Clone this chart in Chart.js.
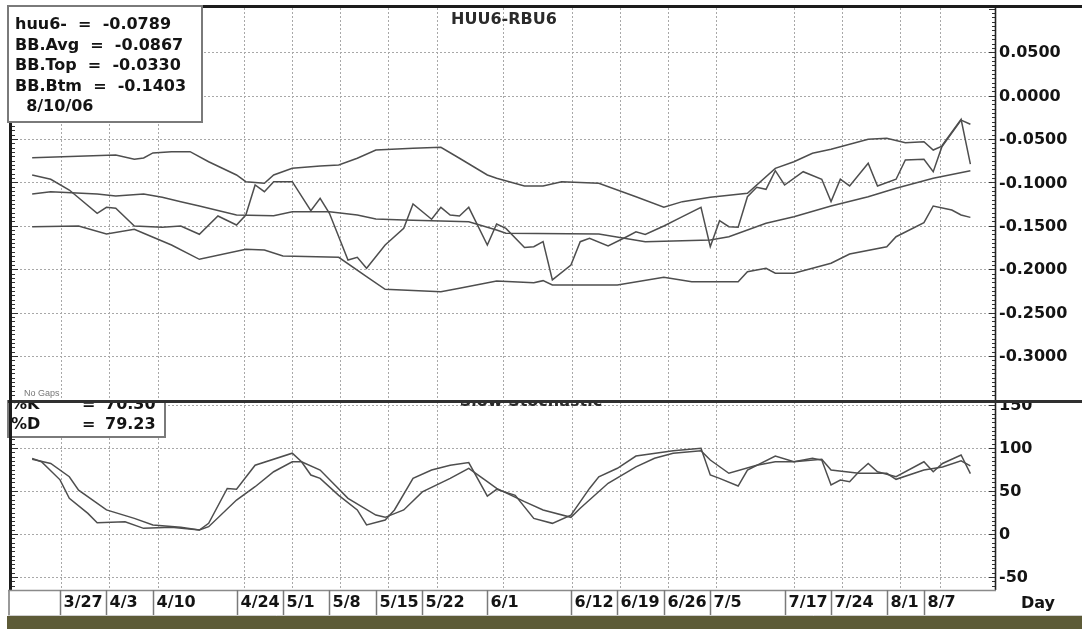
<!DOCTYPE html>
<html><head><meta charset="utf-8">
<script src="https://cdn.jsdelivr.net/npm/chart.js@4/dist/chart.umd.min.js"></script>
<style>
html,body{margin:0;padding:0;background:#fff;}
#wrap{position:relative;width:1082px;height:629px;overflow:hidden;background:#fff;}
#c1{position:absolute;left:0;top:0;}
#c2{position:absolute;left:0;top:400px;}
#band{position:absolute;left:7px;top:616px;width:1075px;height:13px;background:#5d5b37;}
</style></head><body>
<div id="wrap">
<canvas id="c1" width="1082" height="400" style="width:1082px;height:400px"></canvas>
<canvas id="c2" width="1082" height="216" style="width:1082px;height:216px"></canvas>
<div id="band"></div>
</div>
<script>
// ---- data (x = trading-day index counted from 3/27) ----
const dayLabels = ["3/27","4/3","4/10","4/24","5/1","5/8","5/15","5/22","6/1","6/12","6/19","6/26","7/5","7/17","7/24","8/1","8/7"];
const labelDays = [0,5,10,19,24,29,34,39,46,55,60,65,70,78,83,89,93];
const gridDays = [0.1,5.3,10.5,19.8,25,30.1,35.3,40.6,47.7,55.1,60.3,65.4,70.6,79,84.2,90.4,94.7];

const upperTicks = [0.05,0,-0.05,-0.1,-0.15,-0.2,-0.25,-0.3];
const upperTickLabels = ["0.0500","0.0000","-0.0500","-0.1000","-0.1500","-0.2000","-0.2500","-0.3000"];
const lowerTicks = [150,100,50,0,-50];
const lowerTickLabels = ["150","100","50","0","-50"];

const huu6 = [[-3,-0.0915],[-1,-0.0964],[1,-0.1088],[4,-0.1356],[5,-0.1287],[6,-0.1298],[8,-0.1502],[11,-0.1517],[13,-0.1502],[15,-0.1598],[17,-0.1387],[19,-0.1491],[20,-0.1376],[21,-0.1030],[22,-0.1107],[23,-0.0992],[25,-0.0992],[27,-0.1326],[28,-0.1183],[29,-0.1356],[31,-0.1894],[32,-0.1863],[33,-0.1990],[35,-0.1721],[37,-0.1529],[38,-0.1249],[40,-0.1425],[41,-0.1287],[42,-0.1376],[43,-0.1387],[44,-0.1287],[46,-0.1721],[47,-0.1480],[48,-0.1530],[50,-0.1751],[51,-0.1741],[52,-0.1683],[53,-0.2124],[55,-0.1952],[56,-0.1683],[57,-0.1644],[59,-0.1733],[61,-0.1626],[62,-0.1570],[63,-0.1600],[65,-0.1502],[67,-0.1395],[69,-0.1287],[70,-0.1741],[71,-0.1441],[72,-0.1510],[73,-0.1517],[74,-0.1165],[75,-0.1056],[76,-0.1080],[77,-0.0865],[78,-0.1030],[80,-0.0877],[82,-0.0964],[83,-0.1222],[84,-0.0964],[85,-0.1041],[87,-0.0780],[88,-0.1041],[90,-0.0964],[91,-0.0742],[93,-0.0734],[94,-0.0877],[95,-0.0569],[97,-0.0273],[98,-0.0789]];
const bbAvg = [[-3,-0.1134],[-1,-0.1107],[4,-0.1134],[6,-0.1157],[9,-0.1134],[11,-0.1172],[13,-0.1222],[15,-0.1272],[19,-0.1376],[23,-0.1384],[25,-0.1338],[29,-0.1338],[32,-0.1376],[34,-0.1422],[37,-0.1433],[44,-0.1453],[47,-0.1548],[48,-0.1586],[58,-0.1594],[63,-0.1683],[70,-0.1664],[72,-0.1626],[76,-0.1471],[79,-0.1395],[83,-0.1272],[87,-0.1165],[90,-0.1068],[94,-0.0953],[98,-0.0867]];
const bbTop = [[-3,-0.0715],[6,-0.0684],[8,-0.0734],[9,-0.0719],[10,-0.0661],[12,-0.0646],[14,-0.0646],[16,-0.0762],[19,-0.0915],[20,-0.0992],[22,-0.1010],[23,-0.0915],[25,-0.0838],[28,-0.0811],[30,-0.0800],[32,-0.0722],[34,-0.0627],[38,-0.0607],[41,-0.0596],[43,-0.0722],[46,-0.0915],[47,-0.0953],[50,-0.1041],[52,-0.1041],[54,-0.0992],[58,-0.1010],[62,-0.1165],[65,-0.1287],[67,-0.1222],[70,-0.1172],[74,-0.1126],[77,-0.0838],[79,-0.0762],[81,-0.0665],[83,-0.0619],[87,-0.0503],[89,-0.0492],[91,-0.0543],[93,-0.0531],[94,-0.0627],[95,-0.0580],[97,-0.0283],[98,-0.0330]];
const bbBtm = [[-3,-0.1510],[2,-0.1502],[5,-0.1594],[8,-0.1540],[9,-0.1586],[12,-0.1721],[15,-0.1886],[20,-0.1771],[22,-0.1779],[24,-0.1848],[30,-0.1863],[33,-0.2086],[35,-0.2232],[41,-0.2259],[43,-0.2220],[47,-0.2136],[51,-0.2156],[52,-0.2132],[53,-0.2182],[60,-0.2182],[65,-0.2093],[68,-0.2144],[73,-0.2144],[74,-0.2029],[76,-0.1990],[77,-0.2047],[79,-0.2047],[83,-0.1932],[85,-0.1825],[89,-0.1741],[90,-0.1626],[93,-0.1464],[94,-0.1272],[96,-0.1318],[97,-0.1376],[98,-0.1403]];

const stochK = [[-3,88],[-2,84],[0,63],[1,41.5],[3,24],[4,13],[7,14.3],[9,6.6],[12,7.8],[15,4.6],[16,12.4],[18,53],[19,52],[21,80],[25,94],[26,84],[27,68.6],[28,64.7],[30,45],[32,28],[33,10.5],[35,16.3],[36,28],[38,64.7],[40,74.4],[42,80],[44,83],[46,44],[47,52],[49,45],[51,18.2],[53,12.4],[55,22],[57,53],[58,66.6],[60,76.4],[62,90.7],[66,96.9],[69,99.7],[70,68.6],[71,64.7],[73,55.8],[74,74.4],[77,90.7],[79,84],[81,88],[82,86],[83,57],[84,62.8],[85,60.8],[86,72.4],[87,82],[88,72.4],[90,66.6],[93,84],[94,72.4],[95,82],[97,91.9],[98,70.3]];
const stochD = [[-3,87],[-1,82],[1,66.6],[2,51],[5,28],[8,18.2],[10,10.5],[13,7.8],[15,4.6],[16,8.5],[19,39.5],[21,55],[23,72.4],[25,84],[26,84],[28,74.4],[31,41.5],[34,22],[35,19.4],[37,28],[39,49],[42,64.7],[44,76.4],[46,60.8],[47,53],[50,37.6],[52,28],[55,19.4],[56,30],[59,59],[62,78],[64,88],[66,93.8],[69,96.9],[70,86],[72,70.6],[75,80],[77,84],[79,84],[82,87],[83,74.4],[86,70.6],[89,70.6],[90,63.6],[93,74.4],[95,78],[97,85],[98,79.23]];

const upperLegend = ["huu6-  =  -0.0789","BB.Avg  =  -0.0867","BB.Top  =  -0.0330","BB.Btm  =  -0.1403","  8/10/06"];
const lowerLegendNames = ["%K","%D"];
const lowerLegendValues = ["70.30","79.23"];

// ---- styles ----
const LINE = '#4e4e4e', DARK = '#1c1c1c', GRID = '#a8a8a8', TXT = '#141414';
const FONT = 'bold 16px "DejaVu Sans"';
const pts = arr => arr.map(([d, v]) => ({x: d, y: v}));
const ds = arr => ({data: pts(arr), borderColor: LINE, borderWidth: 1.5, pointRadius: 0, tension: 0, fill: false});

function hline(ctx, x1, x2, y) { ctx.beginPath(); ctx.moveTo(x1, y); ctx.lineTo(x2, y); ctx.stroke(); }
function vline(ctx, x, y1, y2) { ctx.beginPath(); ctx.moveTo(x, y1); ctx.lineTo(x, y2); ctx.stroke(); }

function drawGrid(chart, yTicks) {
  const {ctx, chartArea: a, scales: {x, y}} = chart;
  ctx.save();
  ctx.strokeStyle = GRID; ctx.lineWidth = 1; ctx.setLineDash([2, 2]);
  yTicks.forEach(v => { const py = Math.round(y.getPixelForValue(v)) + 0.5; if (py > a.top + 2 && py < a.bottom - 2) hline(ctx, a.left, a.right, py); });
  gridDays.forEach(d => { const px = Math.round(x.getPixelForValue(d)) + 0.5; vline(ctx, px, a.top, a.bottom); });
  ctx.restore();
}

function drawRulers(chart, step, major) {
  const {ctx, chartArea: a, scales: {y}} = chart;
  ctx.save();
  ctx.strokeStyle = '#333'; ctx.lineWidth = 1;
  const k0 = Math.ceil(y.min / step), k1 = Math.floor(y.max / step);
  for (let k = k0; k <= k1; k++) {
    const v = k * step;
    const isMajor = Math.abs(v / major - Math.round(v / major)) < 1e-6;
    const py = Math.round(y.getPixelForValue(v)) + 0.5;
    if (py < a.top + 1 || py > a.bottom - 1) continue;
    const len = isMajor ? 6 : 3;
    hline(ctx, a.right - len, a.right, py);
    hline(ctx, a.left, a.left + len, py);
  }
  ctx.lineWidth = 1.6; ctx.strokeStyle = '#222';
  vline(ctx, a.right + 0.5, a.top, a.bottom);
  ctx.restore();
}

function drawYLabels(chart, ticks, labels) {
  const {ctx, scales: {y}} = chart;
  ctx.save();
  ctx.font = FONT; ctx.fillStyle = TXT; ctx.textAlign = 'left'; ctx.textBaseline = 'middle';
  ticks.forEach((v, i) => ctx.fillText(labels[i], 999, y.getPixelForValue(v) + 1));
  ctx.restore();
}

const upperPlugin = {
  id: 'upperDeco',
  beforeDatasetsDraw(chart) { drawGrid(chart, upperTicks); },
  afterDraw(chart) {
    const {ctx, chartArea: a} = chart;
    drawRulers(chart, 0.005, 0.05);
    drawYLabels(chart, upperTicks, upperTickLabels);
    ctx.save();
    ctx.fillStyle = DARK;
    ctx.fillRect(8, 5, 1074, 3);
    ctx.fillRect(9, 5, 3, a.bottom - 5);
    ctx.font = FONT; ctx.fillStyle = '#2a2a2a'; ctx.textAlign = 'center'; ctx.textBaseline = 'middle';
    ctx.fillText('HUU6-RBU6', 504, 20);
    ctx.fillStyle = '#fff'; ctx.fillRect(7, 5, 196, 118);
    ctx.strokeStyle = '#7a7a7a'; ctx.lineWidth = 2; ctx.strokeRect(8, 6, 194, 116);
    ctx.fillStyle = TXT; ctx.textAlign = 'left';
    upperLegend.forEach((t, i) => ctx.fillText(t, 15, 25 + i * 20.5));
    ctx.font = '9px "Liberation Sans"'; ctx.fillStyle = '#777'; ctx.textBaseline = 'alphabetic';
    ctx.fillText('No Gaps', 24, 396);
    ctx.restore();
  }
};

const lowerPlugin = {
  id: 'lowerDeco',
  beforeDatasetsDraw(chart) { drawGrid(chart, lowerTicks); },
  afterDraw(chart) {
    const {ctx, chartArea: a, scales: {x}} = chart;
    drawRulers(chart, 5, 50);
    ctx.save();
    ctx.font = FONT; ctx.fillStyle = '#2a2a2a'; ctx.textAlign = 'center'; ctx.textBaseline = 'middle';
    ctx.fillText('Slow Stochastic', 531, 2);
    ctx.restore();
    drawYLabels(chart, lowerTicks, lowerTickLabels);
    ctx.save();
    ctx.fillStyle = '#fff'; ctx.fillRect(7, 0, 159, 38);
    ctx.strokeStyle = '#7a7a7a'; ctx.lineWidth = 2; ctx.strokeRect(8, -4, 157, 41);
    ctx.font = FONT; ctx.fillStyle = TXT; ctx.textAlign = 'left'; ctx.textBaseline = 'middle';
    lowerLegendNames.forEach((n, i) => {
      const yy = 5 + i * 20;
      ctx.fillText(n, 11, yy); ctx.fillText('=', 82, yy); ctx.fillText(lowerLegendValues[i], 105, yy);
    });
    ctx.fillStyle = '#303030'; ctx.fillRect(8, 0, 1074, 3);
    ctx.fillStyle = DARK; ctx.fillRect(9, 0, 3, a.bottom);
    ctx.fillStyle = '#9a9a9a'; ctx.fillRect(8, a.bottom, 2, 26);
    ctx.strokeStyle = '#8a8a8a'; ctx.lineWidth = 1.5;
    hline(ctx, 8, a.right + 1, a.bottom + 0.5);
    ctx.strokeStyle = '#cfcfcf'; ctx.lineWidth = 1;
    hline(ctx, 8, 1082, 215.5);
    ctx.strokeStyle = '#7a7a7a'; ctx.lineWidth = 1.5;
    ctx.fillStyle = TXT; ctx.font = FONT; ctx.textAlign = 'left'; ctx.textBaseline = 'middle';
    dayLabels.forEach((t, i) => {
      const px = Math.round(x.getPixelForValue(labelDays[i])) + 0.5;
      vline(ctx, px, a.bottom, a.bottom + 25);
      ctx.fillText(t, px + 3, a.bottom + 13);
    });
    ctx.fillText('Day', 1021, a.bottom + 14);
    ctx.restore();
  }
};

const common = {
  responsive: false, animation: false, events: [],
  plugins: {legend: {display: false}, tooltip: {enabled: false}, title: {display: false}},
};

new Chart(document.getElementById('c1'), {
  type: 'line',
  data: {datasets: [ds(bbTop), ds(bbAvg), ds(bbBtm), ds(huu6)]},
  options: Object.assign({}, common, {
    layout: {padding: {left: 12, right: 87, top: 8, bottom: 0}},
    scales: {
      x: {type: 'linear', min: -5.17, max: 100.65, display: false},
      y: {type: 'linear', min: -0.3507, max: 0.1009, display: false}
    }
  }),
  plugins: [upperPlugin]
});

new Chart(document.getElementById('c2'), {
  type: 'line',
  data: {datasets: [ds(stochK), ds(stochD)]},
  options: Object.assign({}, common, {
    layout: {padding: {left: 12, right: 87, top: 2, bottom: 26}},
    scales: {
      x: {type: 'linear', min: -5.17, max: 100.65, display: false},
      y: {type: 'linear', min: -65.1, max: 153.5, display: false}
    }
  }),
  plugins: [lowerPlugin]
});
</script>
</body></html>
